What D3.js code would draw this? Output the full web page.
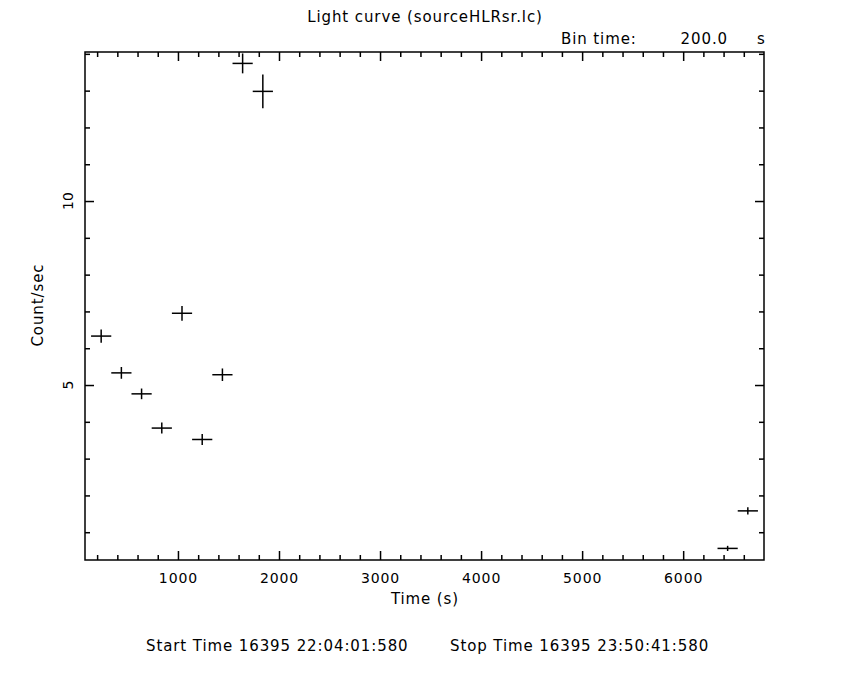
<!DOCTYPE html>
<html>
<head>
<meta charset="utf-8">
<script src="https://cdn.jsdelivr.net/npm/d3@7"></script>
<style>
  body { margin: 0; background: #fff; }
  svg text { font-family: "DejaVu Sans", sans-serif; font-size: 15px; letter-spacing: 0.9px; fill: #000; }
  .axis path, .axis line { stroke: #000; stroke-width: 1.5; }
</style>
</head>
<body>
<div id="chart"></div>
<script>
// light curve bins (centre time, rate, 1-sigma error)
const timeVals = [240, 440, 640, 840, 1040, 1240, 1440, 1640, 1840, 6440, 6640];
const rateVals = [6.33, 5.33, 4.76, 3.83, 6.95, 3.52, 5.28, 13.74, 12.98, 0.56, 1.58];
const rateErr = [0.18, 0.16, 0.145, 0.15, 0.2, 0.15, 0.17, 0.27, 0.46, 0.07, 0.1];
const binHalf = 100;

const xMajor = [1000, 2000, 3000, 4000, 5000, 6000];
const yMajor = [5, 10];

const width = 850, height = 680;
const margin = {top: 52, right: 86, bottom: 120, left: 85};

let svg = d3.select("#chart").append("svg")
    .attr("width", width)
    .attr("height", height);

let xScale = d3.scaleLinear()
    .domain([80, 6800])
    .range([margin.left, width - margin.right]);

let yScale = d3.scaleLinear()
    .domain([0.245, 14.05])
    .range([height - margin.bottom, margin.top]);

let x0 = margin.left, x1 = width - margin.right;
let y0 = height - margin.bottom, y1 = margin.top;

let xMinor = d3.range(200, 6800, 200).filter(d => d % 1000 !== 0);
let yMinor = d3.range(1, 15, 1).filter(d => d % 5 !== 0);

// bottom axis with labels, ticks pointing inward
svg.append("g")
    .attr("class", "axis")
    .attr("transform", `translate(0,${y0})`)
    .call(d3.axisBottom(xScale).tickValues(xMajor).tickSize(-9).tickPadding(13).tickSizeOuter(0).tickFormat(d3.format("d")))
    .call(g => g.select(".domain").remove())
    .call(g => g.selectAll("text").style("font-size", "14px").style("font-family", "DejaVu Sans"));
svg.append("g")
    .attr("class", "axis")
    .attr("transform", `translate(0,${y0})`)
    .call(d3.axisBottom(xScale).tickValues(xMinor).tickSize(-5).tickFormat("").tickSizeOuter(0))
    .call(g => g.select(".domain").remove());

// top axis, ticks only
svg.append("g")
    .attr("class", "axis")
    .attr("transform", `translate(0,${y1})`)
    .call(d3.axisTop(xScale).tickValues(xMajor).tickSize(-9).tickFormat("").tickSizeOuter(0))
    .call(g => g.select(".domain").remove());
svg.append("g")
    .attr("class", "axis")
    .attr("transform", `translate(0,${y1})`)
    .call(d3.axisTop(xScale).tickValues(xMinor).tickSize(-5).tickFormat("").tickSizeOuter(0))
    .call(g => g.select(".domain").remove());

// left + right axes, ticks only (labels drawn rotated below)
[[x0, d3.axisLeft], [x1, d3.axisRight]].forEach(([xp, ax]) => {
    svg.append("g")
        .attr("class", "axis")
        .attr("transform", `translate(${xp},0)`)
        .call(ax(yScale).tickValues(yMajor).tickSize(-9).tickFormat("").tickSizeOuter(0))
        .call(g => g.select(".domain").remove());
    svg.append("g")
        .attr("class", "axis")
        .attr("transform", `translate(${xp},0)`)
        .call(ax(yScale).tickValues(yMinor).tickSize(-5).tickFormat("").tickSizeOuter(0))
        .call(g => g.select(".domain").remove());
});

// frame
svg.append("rect")
    .attr("x", x0).attr("y", y1)
    .attr("width", x1 - x0).attr("height", y0 - y1)
    .attr("fill", "none").attr("stroke", "#000").attr("stroke-width", 1.5);

// rotated y tick labels
svg.selectAll(".ylab")
    .data(yMajor)
    .enter()
    .append("text")
    .attr("class", "ylab")
    .attr("text-anchor", "middle")
    .style("font-size", "14px")
    .style("letter-spacing", "0px")
    .attr("transform", d => `translate(73,${yScale(d)}) rotate(-90)`)
    .text(d => d);

// error crosses
let pts = timeVals.map((t, i) => ({t: t, r: rateVals[i], e: rateErr[i]}));
let marks = svg.append("g").attr("stroke", "#000").attr("stroke-width", 1.5);
marks.selectAll(".xerr")
    .data(pts).enter().append("line")
    .attr("class", "xerr")
    .attr("x1", d => xScale(d.t - binHalf))
    .attr("x2", d => xScale(d.t + binHalf))
    .attr("y1", d => yScale(d.r))
    .attr("y2", d => yScale(d.r));
marks.selectAll(".yerr")
    .data(pts).enter().append("line")
    .attr("class", "yerr")
    .attr("x1", d => xScale(d.t))
    .attr("x2", d => xScale(d.t))
    .attr("y1", d => yScale(d.r - d.e))
    .attr("y2", d => yScale(d.r + d.e));

// labels
svg.append("text")
    .attr("text-anchor", "middle")
    .attr("x", 425).attr("y", 22)
    .text("Light curve (sourceHLRsr.lc)");
svg.append("text").attr("x", 561).attr("y", 44).text("Bin time:");
svg.append("text").attr("x", 728).attr("y", 44).attr("text-anchor", "end").text("200.0");
svg.append("text").attr("x", 757).attr("y", 44).text("s");

svg.append("text")
    .attr("text-anchor", "middle")
    .attr("x", 425).attr("y", 604)
    .text("Time (s)");
svg.append("text")
    .attr("text-anchor", "middle")
    .attr("transform", "translate(43,305) rotate(-90)")
    .text("Count/sec");

svg.append("text").attr("x", 146).attr("y", 651).text("Start Time 16395 22:04:01:580");
svg.append("text").attr("x", 450).attr("y", 651).text("Stop Time 16395 23:50:41:580");
</script>
</body>
</html>
